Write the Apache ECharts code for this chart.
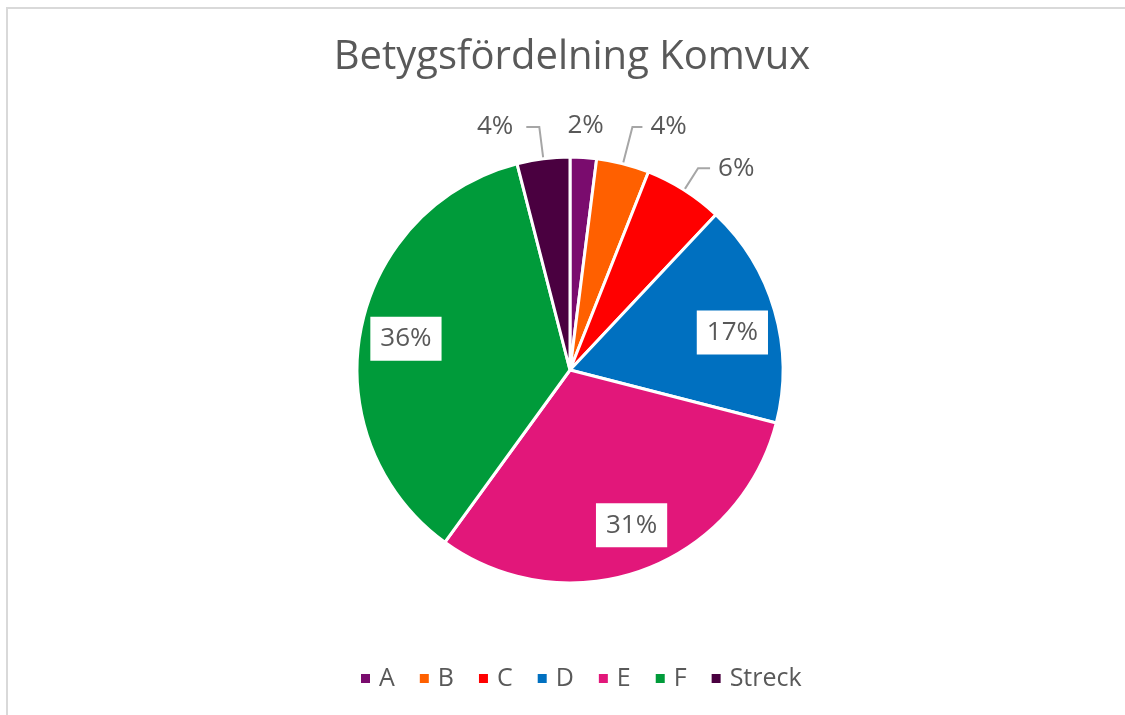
<!DOCTYPE html>
<html>
<head>
<meta charset="utf-8">
<style>
  html, body { margin: 0; padding: 0; background: #fff; }
  #chart { width: 1125px; height: 715px; }
</style>
<script src="https://cdn.jsdelivr.net/npm/echarts@6/dist/echarts.min.js"></script>
</head>
<body>
<div id="chart"></div>
<script>
var FONT = '"Open Sans", "Noto Sans", sans-serif';
var TEXT = '#595959';

var CATEGORIES = ['A', 'B', 'C', 'D', 'E', 'F', 'Streck'];
var VALUES = [2, 4, 6, 17, 31, 36, 4];
var COLORS = ['#7a0c6e', '#ff6000', '#ff0000', '#0070c0', '#e2177a', '#009b3a', '#4a0040'];

// small slices get outside labels, big ones a boxed label inside
var INSIDE = ['D', 'E', 'F'];
// [length, length2, distance] of the leader line per outside label
var LINE_LEN = { A: [32, 0, -18], B: [38, 10, 8], C: [26, 12, 8], Streck: [32, 13, 13] };
// small nudges for the boxed labels
var NUDGE = { D: [2, 9], E: [5, -2], F: [0, 0] };

var R = 213;
var CENTER = [570, 370];

var chart = echarts.init(document.getElementById('chart'), null, { renderer: 'canvas' });

var mainData = CATEGORIES.map(function (name, i) {
  var item = { name: name, value: VALUES[i], itemStyle: { color: COLORS[i] } };
  if (INSIDE.indexOf(name) >= 0) {
    item.label = { show: false };
    item.labelLine = { show: false };
  } else {
    var l = LINE_LEN[name];
    item.label = { distanceToLabelLine: l[2] };
    item.labelLine = { show: name !== 'A', length: l[0], length2: l[1] };
  }
  return item;
});

var labelData = CATEGORIES.map(function (name, i) {
  var inside = INSIDE.indexOf(name) >= 0;
  return {
    name: name,
    value: VALUES[i],
    label: inside ? { show: true, offset: NUDGE[name] } : { show: false }
  };
});

chart.setOption({
  backgroundColor: '#fff',
  animation: false,
  textStyle: { fontFamily: FONT, color: TEXT },
  title: {
    text: 'Betygsfördelning Komvux',
    left: 567,
    top: 33,
    textAlign: 'center',
    textStyle: { fontFamily: FONT, fontSize: 40, fontWeight: 'normal', color: TEXT }
  },
  legend: {
    data: CATEGORIES,
    left: 354,
    top: 661,
    icon: 'rect',
    itemWidth: 11,
    itemHeight: 11,
    itemGap: 23,
    textStyle: { fontFamily: FONT, fontSize: 25, color: TEXT, padding: [0, 0, 0, 3] }
  },
  graphic: [{
    type: 'rect',
    silent: true,
    shape: { x: 7, y: 8, width: 1300, height: 900 },
    style: { fill: 'none', stroke: '#d9d9d9', lineWidth: 2 }
  }],
  series: [{
    type: 'pie',
    center: CENTER,
    radius: [0, R],
    startAngle: 90,
    clockwise: true,
    avoidLabelOverlap: false,
    itemStyle: { borderColor: '#fff', borderWidth: 3 },
    label: {
      position: 'outside',
      formatter: '{c}%',
      fontFamily: FONT,
      fontSize: 26,
      color: TEXT
    },
    labelLine: {
      lineStyle: { color: '#a6a6a6', width: 2 }
    },
    emphasis: { disabled: true },
    data: mainData
  }, {
    // transparent ring only used to place the boxed labels at ~0.77 R
    type: 'pie',
    center: CENTER,
    radius: [R * 0.54, R],
    startAngle: 90,
    clockwise: true,
    silent: true,
    legendHoverLink: false,
    itemStyle: { color: 'rgba(0,0,0,0)' },
    label: {
      position: 'inside',
      formatter: '{c}%',
      fontFamily: FONT,
      fontSize: 26,
      color: TEXT,
      backgroundColor: '#fff',
      padding: [10, 10, 8, 10]
    },
    labelLine: { show: false },
    emphasis: { disabled: true },
    data: labelData
  }]
});
</script>
</body>
</html>
